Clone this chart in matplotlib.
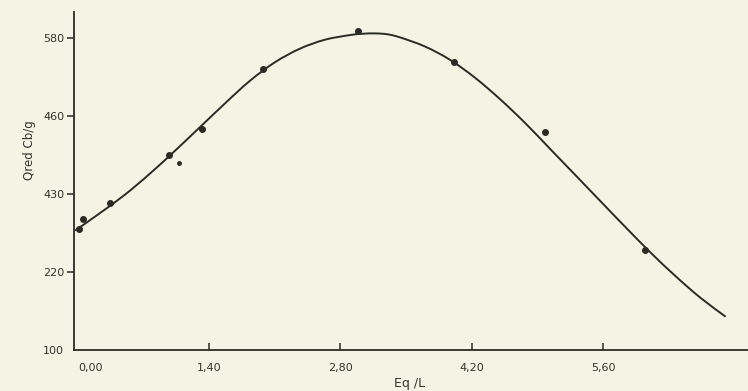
import matplotlib
matplotlib.use("Agg")
import matplotlib.pyplot as plt
from matplotlib.path import Path
from matplotlib.patches import PathPatch

# measured points
pts_x = [0.014, 0.057, 0.34, 0.973, 1.319, 1.969, 2.982, 4.009, 4.979, 6.045]
pts_y = [285.7, 301.0, 325.8, 400.2, 439.8, 532.2, 591.2, 543.0, 435.2, 253.8]
# small stray dot
dot_x = [1.08]
dot_y = [388.3]

# fitted curve
curve_x = [-0.021, 0.234, 0.501, 0.768, 1.034, 1.301, 1.567, 1.834, 2.100, 2.367,
           2.633, 2.900, 3.033, 3.166, 3.300, 3.433, 3.699, 3.966, 4.232, 4.499,
           4.765, 5.032, 5.299, 5.565, 5.832, 6.098, 6.365, 6.631, 6.898]
curve_y = [284.6, 310.6, 339.0, 371.5, 406.5, 443.0, 479.5, 514.5, 543.0, 564.0,
           577.8, 585.0, 587.0, 587.6, 586.2, 581.5, 567.5, 547.0, 519.5, 486.5,
           450.0, 410.0, 370.0, 330.0, 290.0, 251.0, 214.5, 181.0, 152.0]

xticks = [0.0, 1.4, 2.8, 4.2, 5.6]
xtick_labels = ["0,00", "1,40", "2,80", "4,20", "5,60"]
yticks = [100, 220, 340, 460, 580]
ytick_labels = ["100", "220", "430", "460", "580"]

bg = "#f5f3e3"
ink = "#2b2b26"


def smooth_path(xs, ys):
    """Catmull-Rom curve through the given points, as cubic Bezier segments."""
    P = list(zip(xs, ys))
    verts = [P[0]]
    codes = [Path.MOVETO]
    n = len(P)
    for i in range(n - 1):
        p0 = P[i - 1] if i > 0 else P[i]
        p1, p2 = P[i], P[i + 1]
        p3 = P[i + 2] if i + 2 < n else P[i + 1]
        c1 = (p1[0] + (p2[0] - p0[0]) / 6, p1[1] + (p2[1] - p0[1]) / 6)
        c2 = (p2[0] - (p3[0] - p1[0]) / 6, p2[1] - (p3[1] - p1[1]) / 6)
        verts += [c1, c2, p2]
        codes += [Path.CURVE4] * 3
    return Path(verts, codes)


fig = plt.figure(figsize=(7.48, 3.91), dpi=100, facecolor=bg)
ax = fig.add_axes([74 / 748, 41 / 391, (748 - 74) / 748, (350 - 11.7) / 391])
ax.set_facecolor(bg)

ax.add_patch(PathPatch(smooth_path(curve_x, curve_y), facecolor="none",
                       edgecolor=ink, lw=1.4, capstyle="round"))
ax.plot(pts_x, pts_y, "o", color=ink, ms=4.0, mec=ink)
ax.plot(dot_x, dot_y, "o", color=ink, ms=2.5)

ax.set_xlim(-0.04, 7.143)
ax.set_ylim(100, 621)

for s in ["top", "right"]:
    ax.spines[s].set_visible(False)
for s in ["left", "bottom"]:
    ax.spines[s].set_color(ink)
    ax.spines[s].set_linewidth(1.3)

ax.set_xticks(xticks)
ax.set_xticklabels(xtick_labels)
ax.set_yticks(yticks)
ax.set_yticklabels(ytick_labels)
ax.tick_params(axis="x", direction="in", length=5, width=1.1, color=ink,
               labelsize=8, labelcolor="#333330", pad=9)
ax.tick_params(axis="y", direction="out", length=5, width=1.1, color=ink,
               labelsize=8, labelcolor="#333330", pad=2)
ax.xaxis.get_major_ticks()[0].tick1line.set_visible(False)
ax.yaxis.get_major_ticks()[0].tick1line.set_visible(False)
for lbl in ax.get_xticklabels():
    if lbl.get_text() == "0,00":
        lbl.set_horizontalalignment("left")

fig.text(30 / 748, 1 - 150 / 391, "Qred Cb/g", rotation=90, ha="center", va="center",
         fontsize=8.5, color="#333330")
fig.text(410 / 748, 1 - 383 / 391, "Eq /L", ha="center", va="center",
         fontsize=9, color="#333330")

fig.savefig("out.png", dpi=100, facecolor=bg)
